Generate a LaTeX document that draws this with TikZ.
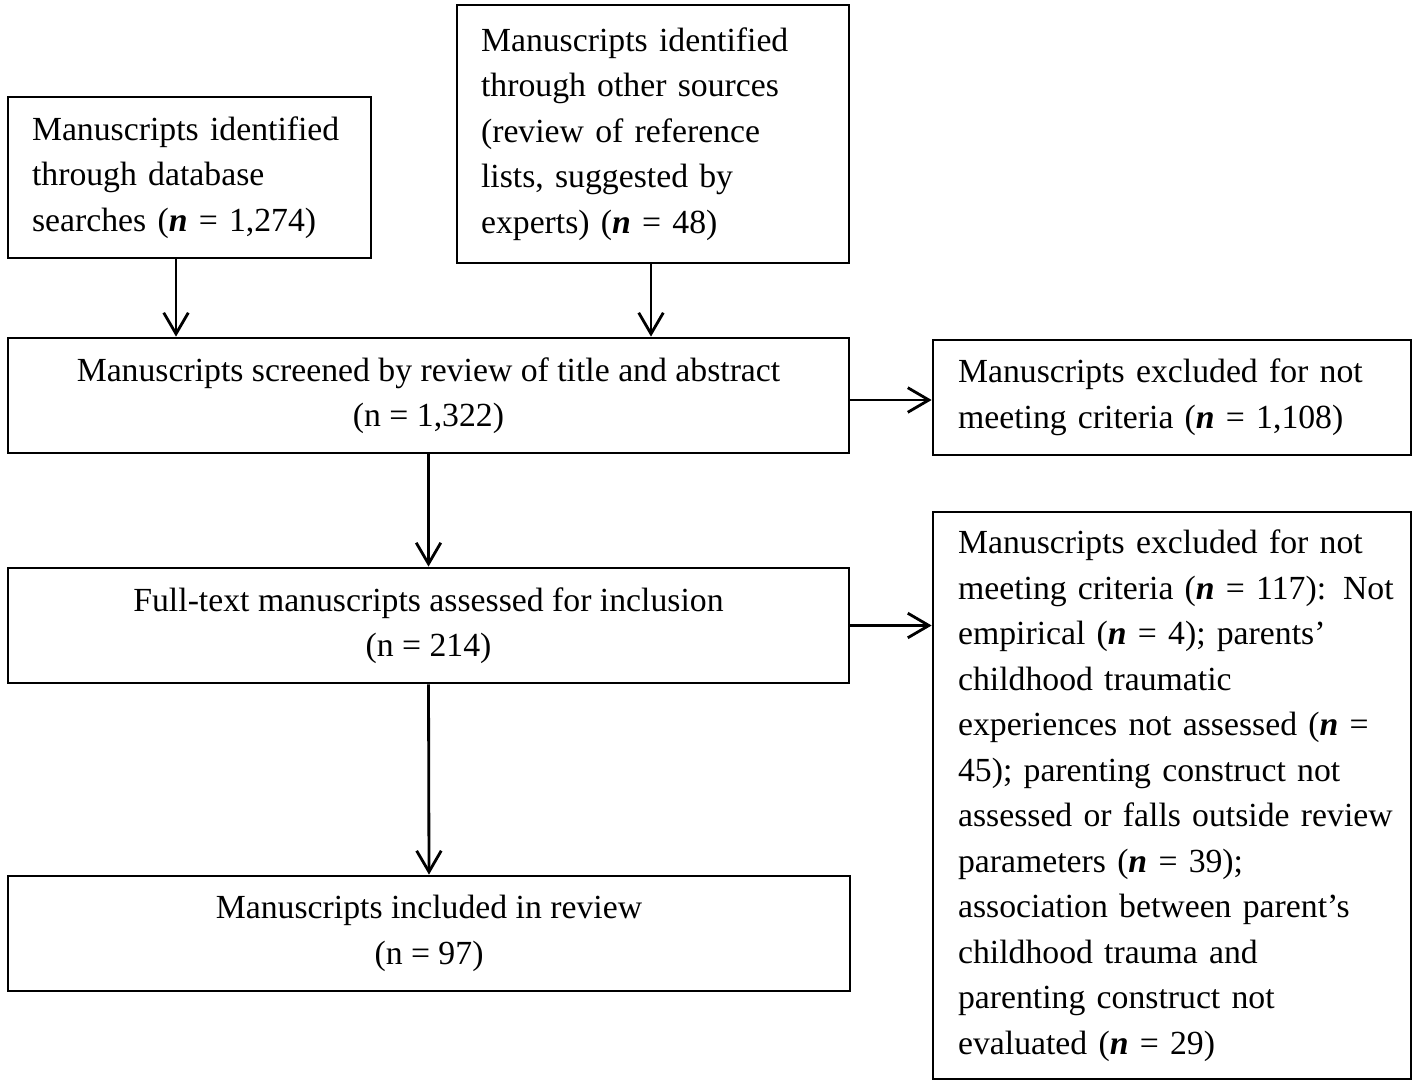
\documentclass[tikz,border=0pt]{standalone}
\usepackage{fontspec}
\setmainfont{Liberation Serif}
\usetikzlibrary{arrows.meta}
\newcommand{\nn}{\textbf{\textit{n}}}
\newcommand{\lnx}[1]{\mbox{#1}}
\begin{document}
\begin{tikzpicture}[x=0.02cm,y=-0.02cm,
  box/.style={draw,line width=1.6pt,inner sep=0pt,font=\fontsize{19.2pt}{25.9pt}\selectfont},
  lbox/.style={box,align=left},
  cbox/.style={box,align=center},
  arr/.style={line width=1.6pt,-{Straight Barb[length=12pt,width=14pt,line width=1.6pt]}}]
\useasboundingbox (0,0) rectangle (1419,1084);
\node[lbox,minimum width=7.26cm,minimum height=3.22cm,text width=6.3cm] (db) at (189.5,177.5)
  {\lnx{Manuscripts identified}\\\lnx{through database}\\\lnx{searches (\nn{} = 1,274)}};
\node[lbox,minimum width=7.84cm,minimum height=5.16cm,text width=6.88cm] (oth) at (653,134)
  {\lnx{Manuscripts identified}\\\lnx{through other sources}\\\lnx{(review of reference}\\\lnx{lists, suggested by}\\\lnx{experts) (\nn{} = 48)}};
\node[cbox,minimum width=16.82cm,minimum height=2.3cm] (scr) at (428.5,395.5)
  {Manuscripts screened by review of title and abstract\\(n = 1,322)};
\node[lbox,minimum width=9.56cm,minimum height=2.3cm,text width=8.56cm] (ex1) at (1172,397.5)
  {\lnx{Manuscripts excluded for not}\\\lnx{meeting criteria (\nn{} = 1,108)}};
\node[cbox,minimum width=16.82cm,minimum height=2.3cm] (full) at (428.5,625.5)
  {Full-text manuscripts assessed for inclusion\\(n = 214)};
\node[lbox,minimum width=9.56cm,minimum height=11.34cm,text width=8.56cm] (ex2) at (1172,795.5)
  {\lnx{Manuscripts excluded for not}\\\lnx{meeting criteria (\nn{} = 117): Not}\\\lnx{empirical (\nn{} = 4); parents’}\\\lnx{childhood traumatic}\\\lnx{experiences not assessed (\nn{} =}\\\lnx{45); parenting construct not}\\\lnx{assessed or falls outside review}\\\lnx{parameters (\nn{} = 39);}\\\lnx{association between parent’s}\\\lnx{childhood trauma and}\\\lnx{parenting construct not}\\\lnx{evaluated (\nn{} = 29)}};
\node[cbox,minimum width=16.84cm,minimum height=2.3cm] (inc) at (429,933.5)
  {Manuscripts included in review\\(n = 97)};
\coordinate (a1) at ([xshift=-0.27cm]db.south);
\coordinate (a2) at ([xshift=-0.04cm]oth.south);
\coordinate (h1) at ([yshift=-0.09cm]scr.east);
\draw[arr] (a1) -- (a1 |- scr.north);
\draw[arr] (a2) -- (a2 |- scr.north);
\draw[arr] (scr.south) -- (full.north);
\draw[arr] (full.south) -- (inc.north);
\draw[arr] (h1) -- (h1 -| ex1.west);
\draw[arr] (full.east) -- (full.east -| ex2.west);
\end{tikzpicture}
\end{document}
